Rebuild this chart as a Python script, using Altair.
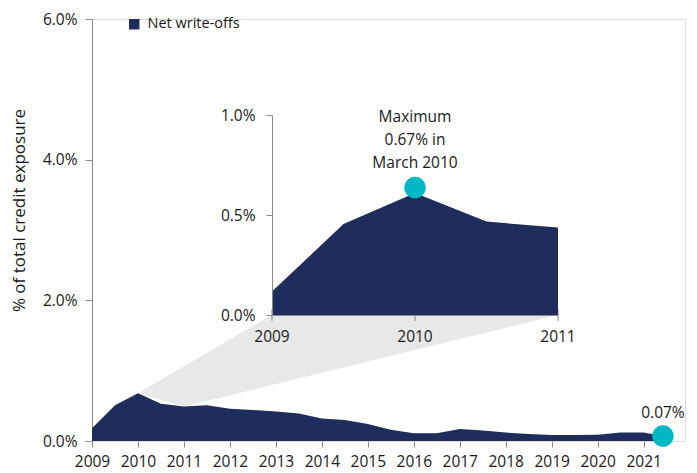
import altair as alt
import pandas as pd

# ---- data ----
main_years = [2009.0, 2009.5, 2010.0, 2010.5, 2011.0, 2011.5, 2012.0, 2012.5, 2013.0,
              2013.5, 2014.0, 2014.5, 2015.0, 2015.5, 2016.0, 2016.5, 2017.0, 2017.5,
              2018.0, 2018.5, 2019.0, 2019.5, 2020.0, 2020.5, 2021.0, 2021.42]
main_values = [0.18, 0.51, 0.68, 0.53, 0.49, 0.51, 0.46, 0.44, 0.42,
               0.39, 0.32, 0.30, 0.24, 0.16, 0.11, 0.11, 0.17, 0.15,
               0.12, 0.10, 0.085, 0.085, 0.09, 0.12, 0.12, 0.07]

inset_years = [2009.0, 2009.5, 2010.0, 2010.5, 2011.0]
inset_values = [0.117, 0.455, 0.61, 0.467, 0.437]

max_year = [2010.0]
max_value = [0.637]
max_label = ["Maximum\n0.67% in\nMarch 2010"]

last_year = [2021.42]
last_value = [0.07]
last_label = ["0.07%"]

# connector wedge (main-chart units): year, lower edge, upper edge
wedge_years = [2010.0, 2011.0, 2012.913, 2019.13]
wedge_low = [0.68, 0.49, 0.796, 1.792]
wedge_high = [0.68, 1.062, 1.792, 1.792]

main_ticks = list(range(2009, 2022))
main_yticks = [0, 2, 4, 6]
inset_ticks = [2009, 2010, 2011]
inset_yticks = [0, 0.5, 1]

series_name = "Net write-offs"

NAVY = "#1f2d5c"
CYAN = "#00b8c6"
GREY_AX = "#8a8a8a"
TXT = "#1a1a1a"
FONT = "Open Sans"

W, H = 593, 422

main_df = pd.DataFrame({"year": main_years, "value": main_values, "series": series_name})
inset_df = pd.DataFrame({"year": inset_years, "value": inset_values})
inset_tick_df = pd.DataFrame({"year": inset_ticks, "value": [0] * len(inset_ticks),
                              "label": [str(t) for t in inset_ticks]})
max_df = pd.DataFrame({"year": max_year, "value": max_value, "label": max_label})
last_df = pd.DataFrame({"year": last_year, "value": last_value, "label": last_label})
wedge_df = pd.DataFrame({"year": wedge_years, "low": wedge_low, "high": wedge_high})

pct = "format(datum.value, '.1f') + '%'"

mx = alt.Scale(domain=[2009, 2021.9], nice=False, zero=False)
my = alt.Scale(domain=[0, 6], nice=False)

x_axis = alt.Axis(values=main_ticks, format="d", title=None, domain=False,
                  tickColor=GREY_AX, tickSize=6, labelPadding=7, labelFontSize=15.5,
                  labelColor=TXT, labelFont=FONT, grid=False, labelFlush=False,
                  labelOverlap=False)
y_axis = alt.Axis(values=main_yticks, labelExpr=pct,
                  title="% of total credit exposure",
                  domainColor=GREY_AX, tickColor=GREY_AX, tickSize=7, labelPadding=8,
                  labelFontSize=15.5, labelColor=TXT, labelFont=FONT, grid=False,
                  titleFont=FONT, titleFontSize=17, titleFontWeight="normal", titleColor=TXT,
                  titleX=-73, titleY=191, titleAlign="center", titleBaseline="middle",
                  titleAngle=270)

MX = alt.X("year:Q", scale=mx, axis=x_axis)

wedge = alt.Chart(wedge_df).mark_area(color="#e8e8e8", opacity=1).encode(
    x=MX,
    y=alt.Y("high:Q", scale=my, axis=y_axis),
    y2="low:Q",
)

main_area = alt.Chart(main_df).mark_area(opacity=1, interpolate="linear").encode(
    x=MX,
    y=alt.Y("value:Q", scale=my, axis=y_axis),
    color=alt.Color("series:N", scale=alt.Scale(range=[NAVY]),
                    legend=alt.Legend(title=None, orient="none", legendX=35, legendY=-2,
                                      symbolType="square", symbolSize=110,
                                      symbolStrokeWidth=0, labelFontSize=14.5,
                                      labelFont=FONT, labelColor=TXT, labelOffset=6,
                                      padding=0)),
)

last_pt = alt.Chart(last_df).mark_circle(size=460, color=CYAN, opacity=1).encode(
    x=MX, y=alt.Y("value:Q", scale=my, axis=y_axis))
last_txt = alt.Chart(last_df).mark_text(baseline="middle", dy=-23, fontSize=15.5,
                                        font=FONT, color=TXT).encode(
    x=MX, y=alt.Y("value:Q", scale=my, axis=y_axis), text="label:N")

main = alt.layer(wedge, main_area, last_pt, last_txt)

ix = alt.Scale(domain=[2009, 2011], range=[180, 466], nice=False, zero=False)
iy = alt.Scale(domain=[0, 1], range=[296, 96], nice=False)

ix_axis = alt.Axis(orient="bottom", offset=-126, values=inset_ticks, labels=False,
                   ticks=False, title=None, domainColor=GREY_AX, grid=False, zindex=2)
iy_axis = alt.Axis(orient="left", offset=-180, values=inset_yticks,
                   labelExpr=pct, title=None, domainColor=GREY_AX, tickColor=GREY_AX,
                   tickSize=6, labelPadding=11, labelFontSize=15.5, labelColor=TXT,
                   labelFont=FONT, grid=False, labelOverlap=False, zindex=2)

IX = alt.X("year:Q", scale=ix, axis=ix_axis)
IY = alt.Y("value:Q", scale=iy, axis=iy_axis)

inset_tickmarks = alt.Chart(inset_tick_df).mark_tick(
    orient="vertical", size=12, thickness=1, color=GREY_AX, opacity=1).encode(x=IX, y=IY)
inset_ticklabels = alt.Chart(inset_tick_df).mark_text(
    baseline="middle", dy=22, fontSize=15.5, font=FONT, color=TXT).encode(
    x=IX, y=IY, text="label:N")
inset_area = alt.Chart(inset_df).mark_area(color=NAVY, opacity=1).encode(x=IX, y=IY)
max_pt = alt.Chart(max_df).mark_circle(size=460, color=CYAN, opacity=1).encode(x=IX, y=IY)
max_txt = alt.Chart(max_df).mark_text(baseline="middle", dy=-71, fontSize=15.5, font=FONT,
                                      color=TXT, lineBreak="\n", lineHeight=23).encode(
    x=IX, y=IY, text="label:N")

inset = alt.layer(inset_tickmarks, inset_area, inset_ticklabels, max_pt, max_txt)

chart = alt.layer(main, inset).resolve_scale(x="independent", y="independent").properties(
    width=W, height=H,
    autosize=alt.AutoSizeParams(type="none"),
    padding={"left": 92, "top": 19, "right": 12, "bottom": 32},
).configure_view(stroke=None).configure(background="white")

chart.save("out.html", embed_options={"renderer": "svg", "actions": False})
